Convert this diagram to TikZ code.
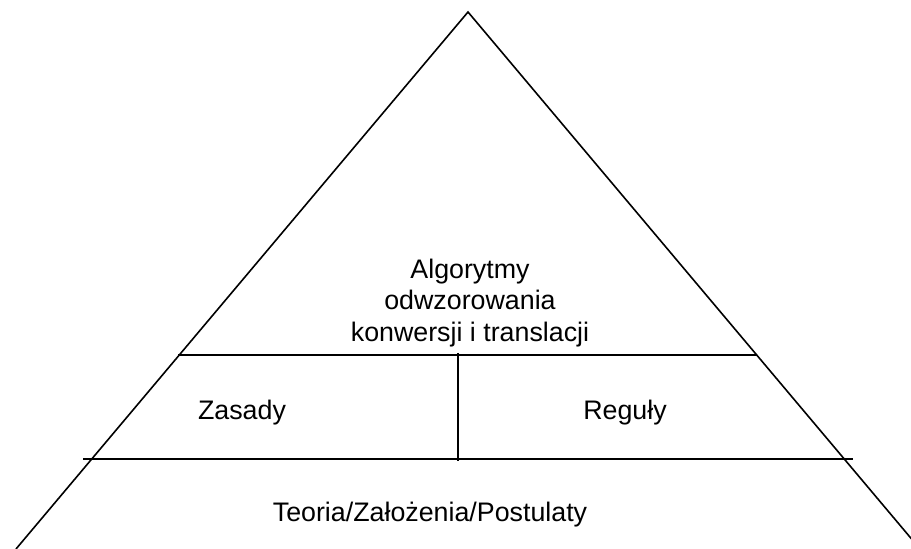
\documentclass[tikz,border=0pt]{standalone}
\usepackage{fontspec}
\setmainfont{Liberation Sans}
\tikzset{
  edge line/.style={line width=0.8pt, black},
  level label/.style={font=\fontsize{13.4}{15.6}\selectfont, align=center, inner sep=0pt},
}
\begin{document}
\begin{tikzpicture}[x=0.5pt,y=-0.5pt]
    \clip (0,0) rectangle (911,549);
    \fill[white] (0,0) rectangle (911,549);
    % vertices
    \coordinate (apex) at (468,12);
    \coordinate (footL) at (16,549);
    \coordinate (footR) at (920,549);
    % dividing lines
    \coordinate (upL) at (178,355);
    \coordinate (upR) at (757,355);
    \coordinate (lowL) at (83,459);
    \coordinate (lowR) at (853,459);
    \coordinate (midT) at (458,353);
    \coordinate (midB) at (458,461);
    % pyramid
    \draw[edge line] (footL) -- (apex) -- (footR);
    \draw[edge line] (upL) -- (upR);
    \draw[edge line] (lowL) -- (lowR);
    \draw[edge line] (midT) -- (midB);
    % labels
    \node[level label] (alg) at (470,303) {Algorytmy\\odwzorowania\\konwersji i translacji};
    \node[level label] (zas) at (242,413) {Zasady};
    \node[level label] (reg) at (625,413) {Reguły};
    \node[level label] (teo) at (430,515) {Teoria/Założenia/Postulaty};
\end{tikzpicture}
\end{document}
